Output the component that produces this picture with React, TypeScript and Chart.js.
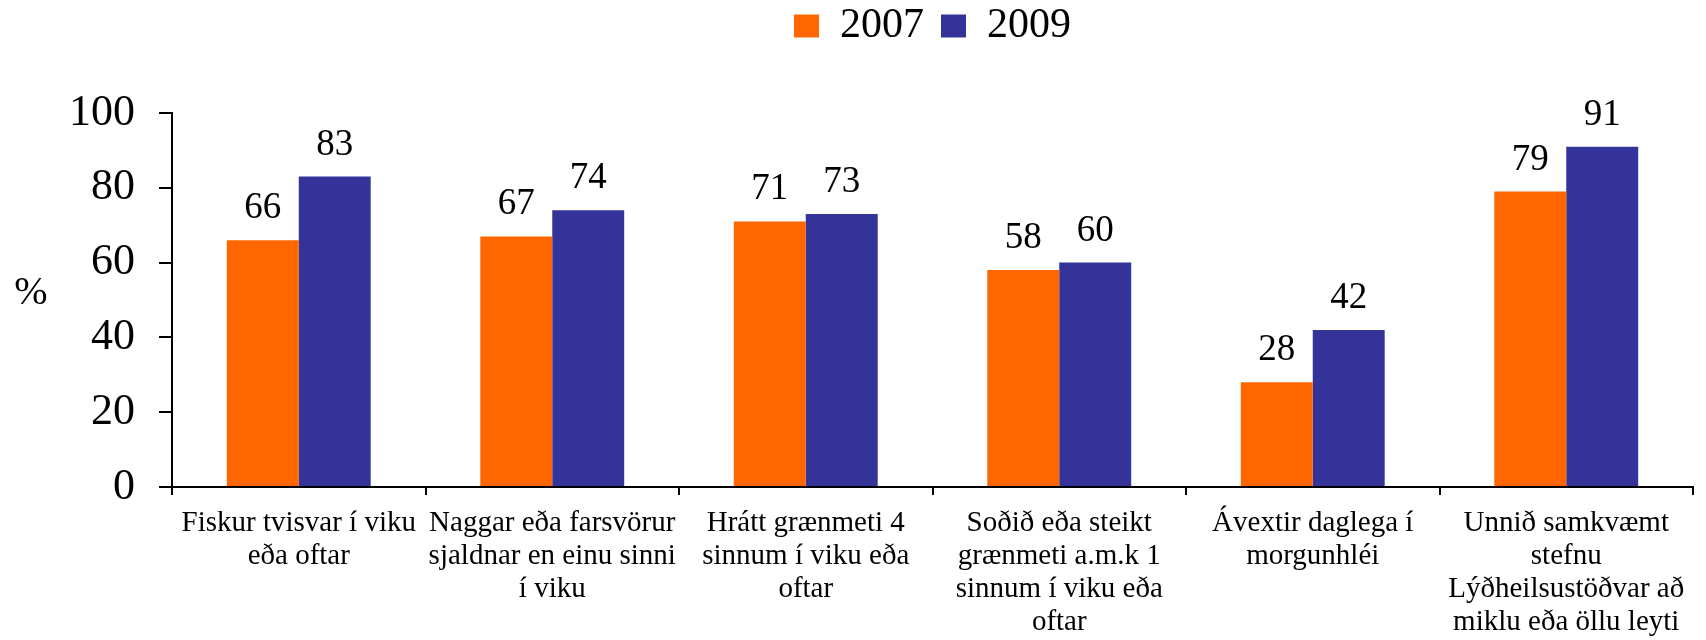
import React, { useEffect, useRef } from 'react';
import { Chart, registerables } from 'chart.js';

Chart.register(...registerables);

const categories: string[][] = [
  ['Fiskur tvisvar í viku', 'eða oftar'],
  ['Naggar eða farsvörur', 'sjaldnar en einu sinni', 'í viku'],
  ['Hrátt grænmeti 4', 'sinnum í viku eða', 'oftar'],
  ['Soðið eða steikt', 'grænmeti a.m.k 1', 'sinnum í viku eða', 'oftar'],
  ['Ávextir daglega í', 'morgunhléi'],
  ['Unnið samkvæmt', 'stefnu', 'Lýðheilsustöðvar að', 'miklu eða öllu leyti'],
];
const seriesNames = ['2007', '2009'];
const values2007 = [66, 67, 71, 58, 28, 79];
const values2009 = [83, 74, 73, 60, 42, 91];
const yTickValues = [0, 20, 40, 60, 80, 100];
const yUnitLabel = '%';

const FONT = '"Liberation Serif", "Times New Roman", Times, serif';
const ORANGE = '#FF6600';
const BLUE = '#333399';

export default function App() {
  const ref = useRef<HTMLCanvasElement>(null);

  useEffect(() => {
    document.body.style.margin = '0';
    const canvas = ref.current;
    if (!canvas) return;

    const valueLabels = {
      id: 'valueLabels',
      afterDatasetsDraw(chart: any) {
        const ctx = chart.ctx;
        ctx.save();
        ctx.font = `37px ${FONT}`;
        ctx.fillStyle = '#000';
        ctx.textAlign = 'center';
        ctx.textBaseline = 'alphabetic';
        chart.data.datasets.forEach((ds: any, i: number) => {
          const meta = chart.getDatasetMeta(i);
          meta.data.forEach((bar: any, j: number) => {
            ctx.fillText(String(ds.data[j]), bar.x, bar.y - 22);
          });
        });
        ctx.restore();
      },
    };

    const unitLabel = {
      id: 'unitLabel',
      afterDraw(chart: any) {
        const ctx = chart.ctx;
        const area = chart.chartArea;
        ctx.save();
        ctx.font = `40px ${FONT}`;
        ctx.fillStyle = '#000';
        ctx.textAlign = 'center';
        ctx.textBaseline = 'middle';
        ctx.fillText(yUnitLabel, 31, (area.top + area.bottom) / 2 - 7);
        ctx.restore();
      },
    };

    const chart = new Chart(canvas, {
      type: 'bar',
      data: {
        labels: categories,
        datasets: [
          {
            label: seriesNames[0],
            data: values2007,
            backgroundColor: ORANGE,
            borderWidth: 0,
            categoryPercentage: 0.5676,
            barPercentage: 1.0,
          },
          {
            label: seriesNames[1],
            data: values2009,
            backgroundColor: BLUE,
            borderWidth: 0,
            categoryPercentage: 0.5676,
            barPercentage: 1.0,
          },
        ],
      },
      options: {
        responsive: false,
        animation: false,
        devicePixelRatio: 1,
        layout: { padding: { left: 0, right: 13, top: -12, bottom: 0 } },
        plugins: {
          legend: {
            display: true,
            position: 'top',
            fullSize: false,
            labels: {
              boxWidth: 25,
              boxHeight: 23,
              padding: 17,
              color: '#000',
              font: { family: FONT, size: 42 },
            },
          },
          title: {
            display: true,
            text: '',
            fullSize: false,
            weight: 500,
            font: { size: 10, lineHeight: 1 },
            padding: { top: 23, bottom: 23 },
          },
          tooltip: { enabled: false },
        },
        scales: {
          x: {
            offset: true,
            grid: {
              display: true,
              offset: true,
              drawOnChartArea: false,
              drawTicks: true,
              tickLength: 8,
              color: '#000',
              lineWidth: 2,
            },
            border: { display: true, color: '#000', width: 2 },
            ticks: {
              autoSkip: false,
              maxRotation: 0,
              minRotation: 0,
              padding: 12,
              color: '#000',
              font: { family: FONT, size: 29, lineHeight: 33 / 29 },
            },
            afterFit(scale: any) {
              scale.height = 153;
            },
          },
          y: {
            min: 0,
            max: 100,
            grid: {
              display: true,
              drawOnChartArea: false,
              drawTicks: true,
              tickLength: 13,
              color: '#000',
              lineWidth: 2,
            },
            border: { display: true, color: '#000', width: 2 },
            ticks: {
              padding: 24,
              color: '#000',
              font: { family: FONT, size: 44 },
            },
            afterBuildTicks(scale: any) {
              scale.ticks = yTickValues.map((v) => ({ value: v }));
            },
            afterFit(scale: any) {
              scale.width = 172;
            },
          },
        },
      },
      plugins: [valueLabels, unitLabel],
    } as any);

    return () => chart.destroy();
  }, []);

  return (
    <div style={{ width: 1706, height: 640 }}>
      <canvas ref={ref} width={1706} height={640} style={{ display: 'block' }} />
    </div>
  );
}
